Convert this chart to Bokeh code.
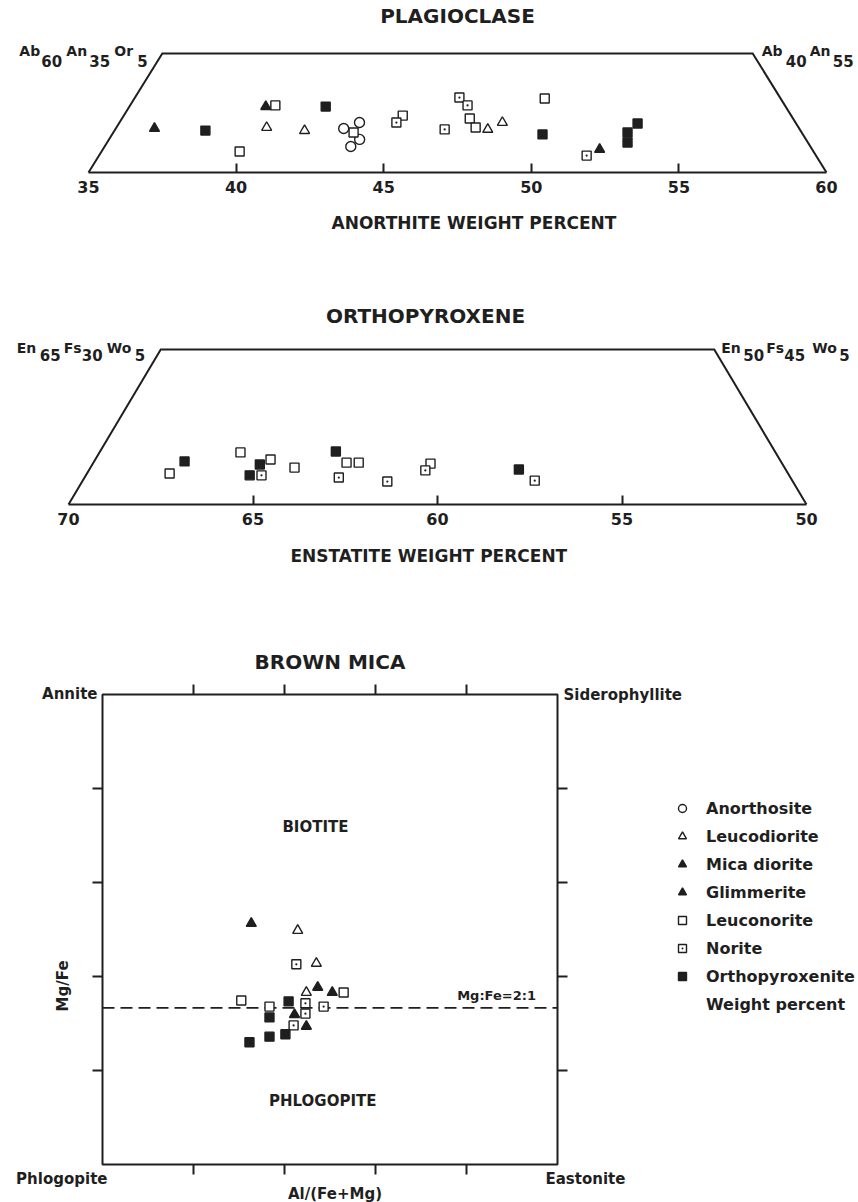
from bokeh.plotting import figure
from bokeh.models import (Range1d, LinearAxis, FixedTicker, Label, Legend, LegendItem,
                          ColumnDataSource, CDSView, GroupFilter, Title)
from bokeh.layouts import column
from bokeh.embed import file_html
from bokeh.resources import INLINE
import math

INK = "#1f1f1f"
FONT = "DejaVu Sans"

# ---------------- rock types / symbols ----------------
ROCKS = ["Anorthosite", "Leucodiorite", "Mica diorite", "Glimmerite",
         "Leuconorite", "Norite", "Orthopyroxenite"]
ROCK_MARKER = {"Anorthosite": "circle", "Leucodiorite": "triangle", "Mica diorite": "triangle",
               "Glimmerite": "triangle", "Leuconorite": "square", "Norite": "square_dot",
               "Orthopyroxenite": "square"}
ROCK_FILLED = {"Anorthosite": False, "Leucodiorite": False, "Mica diorite": True,
               "Glimmerite": True, "Leuconorite": False, "Norite": False,
               "Orthopyroxenite": True}
ROCK_SIZE = {"Anorthosite": 10, "Leucodiorite": 10, "Mica diorite": 10, "Glimmerite": 10,
             "Leuconorite": 9, "Norite": 9, "Orthopyroxenite": 9}

# ---------------- Plagioclase (An wt%, Or wt%) ----------------
PLAG_AN = [36.31, 38.08, 39.68, 39.62, 39.92, 40.09, 41.44, 41.65, 42.72, 43.13, 43.14,
           43.49, 43.34, 44.38, 44.45, 46.16, 45.99, 46.43, 46.78, 47.17, 47.62, 47.97,
           48.90, 49.58, 51.52, 51.83, 52.42, 52.63, 52.57]
PLAG_OR = [1.85, 1.76, 0.88, 2.77, 2.82, 1.89, 1.76, 2.77, 1.85, 2.10, 1.68, 1.39, 1.09,
           2.10, 2.39, 1.81, 3.15, 2.82, 2.27, 1.89, 1.81, 2.10, 3.11, 1.60, 0.71, 0.97,
           1.68, 1.26, 2.06]
PLAG_ROCK = ["Mica diorite", "Orthopyroxenite", "Leuconorite", "Mica diorite", "Leuconorite",
             "Leucodiorite", "Leucodiorite", "Orthopyroxenite", "Anorthosite", "Anorthosite",
             "Leuconorite", "Anorthosite", "Anorthosite", "Norite", "Leuconorite", "Norite",
             "Norite", "Norite", "Leuconorite", "Leuconorite", "Leucodiorite", "Leucodiorite",
             "Leuconorite", "Orthopyroxenite", "Norite", "Mica diorite", "Orthopyroxenite",
             "Orthopyroxenite", "Orthopyroxenite"]
PLAG_CORNER_AN = [35, 35, 55, 60]
PLAG_CORNER_OR = [0, 5, 5, 0]
PLAG_TICKS = [35, 40, 45, 50, 55, 60]

# ---------------- Orthopyroxene (En wt%, Wo wt%) ----------------
OPX_EN = [66.76, 66.16, 64.50, 64.17, 64.62, 64.30, 63.80, 63.28, 61.90, 61.79, 61.46,
          62.24, 60.99, 59.78, 59.53, 57.23, 56.98]
OPX_WO = [1.00, 1.39, 1.68, 1.29, 0.94, 0.94, 1.45, 1.19, 1.71, 1.35, 1.35, 0.87, 0.74,
          1.10, 1.32, 1.13, 0.77]
OPX_ROCK = ["Leuconorite", "Orthopyroxenite", "Leuconorite", "Orthopyroxenite",
            "Orthopyroxenite", "Norite", "Leuconorite", "Leuconorite", "Orthopyroxenite",
            "Leuconorite", "Leuconorite", "Norite", "Norite", "Norite", "Leuconorite",
            "Orthopyroxenite", "Norite"]
OPX_CORNER_EN = [70, 65, 50, 50]
OPX_CORNER_WO = [0, 5, 5, 0]
OPX_TICKS = [70, 65, 60, 55, 50]

# ---------------- Brown mica (Al/(Fe+Mg) relative, Fe/(Fe+Mg)) ----------------
MICA_AL = [0.327, 0.429, 0.426, 0.470, 0.473, 0.505, 0.530, 0.448, 0.305, 0.367, 0.409,
           0.446, 0.486, 0.367, 0.422, 0.446, 0.420, 0.448, 0.402, 0.367, 0.323]
MICA_FE = [0.513, 0.498, 0.426, 0.428, 0.377, 0.366, 0.366, 0.366, 0.349, 0.336, 0.347,
           0.343, 0.336, 0.313, 0.319, 0.321, 0.296, 0.294, 0.277, 0.272, 0.260]
MICA_ROCK = ["Glimmerite", "Leucodiorite", "Norite", "Leucodiorite", "Glimmerite",
             "Glimmerite", "Leuconorite", "Leucodiorite", "Leuconorite", "Leuconorite",
             "Orthopyroxenite", "Norite", "Norite", "Orthopyroxenite", "Mica diorite",
             "Norite", "Norite", "Mica diorite", "Orthopyroxenite", "Orthopyroxenite",
             "Orthopyroxenite"]
MICA_TICKS = [0.2, 0.4, 0.6, 0.8]
MICA_BOX = (0.0, 1.0)
MG_FE_RATIO = 2.0


def proj(main, third):
    """position along the base of the ternary slice"""
    return [m + t / 2.0 for m, t in zip(main, third)]


def base_fig(**kw):
    return figure(x_axis_type=None, y_axis_type=None, tools="", toolbar_location=None,
                  output_backend="svg", background_fill_color="white",
                  border_fill_color="white", min_border_left=0, min_border_right=0,
                  min_border_top=0, outline_line_color=None, **kw)


def rock_style(r):
    return dict(marker=ROCK_MARKER[r], size=ROCK_SIZE[r], line_color=INK, line_width=1.4,
                fill_color=INK if ROCK_FILLED[r] else "white")


def add_points(p, src):
    rends = {}
    for r in ROCKS:
        view = CDSView(filter=GroupFilter(column_name="rock", group=r))
        rends[r] = p.scatter("x", "y", source=src, view=view, **rock_style(r))
    return rends


def lab(p, x, y, text, size, units="data", align="center", baseline="middle",
        xo=0, yo=0, angle=0.0):
    p.add_layout(Label(x=x, y=y, x_units=units, y_units=units, x_offset=xo, y_offset=yo,
                       text=text, text_font=FONT, text_font_style="bold",
                       text_font_size=f"{size}px", text_color=INK, text_align=align,
                       text_baseline=baseline, angle=angle))


def formula(p, x, y, parts, letter_dy, digit_dy):
    # parts: (text, x_offset_px, is_subscript)
    for text, xo, sub in parts:
        lab(p, x, y, text, 15 if sub else 14, align="left", baseline="alphabetic",
            xo=xo, yo=digit_dy if sub else letter_dy)


def ternary_axis(ticks, bounds):
    return LinearAxis(ticker=FixedTicker(ticks=ticks, minor_ticks=ticks[1:-1]),
                      bounds=bounds, axis_line_color=INK, axis_line_width=2,
                      major_tick_line_color=None, major_tick_in=0, major_tick_out=0,
                      minor_tick_in=9, minor_tick_out=0, minor_tick_line_color=INK,
                      minor_tick_line_width=2, major_label_standoff=8,
                      major_label_text_font=FONT, major_label_text_font_style="bold",
                      major_label_text_font_size="16px", major_label_text_color=INK)


def axis_title(text, left_px, standoff):
    return Title(text=text, align="left", offset=left_px, standoff=standoff,
                 vertical_align="top", text_font=FONT, text_font_style="bold",
                 text_font_size="17px", text_color=INK)


# =============== PLAGIOCLASE ===============
p1 = base_fig(width=858, height=260, frame_width=858, frame_height=172,
              min_border_bottom=88,
              x_range=Range1d(32.019, 61.084), y_range=Range1d(0, 7.227))
p1.add_layout(ternary_axis(PLAG_TICKS, (35, 60)), "below")
p1.add_layout(axis_title("ANORTHITE WEIGHT PERCENT", 331, 34), "below")
p1.line(proj(PLAG_CORNER_AN, PLAG_CORNER_OR), PLAG_CORNER_OR, line_color=INK, line_width=2,
        line_join="miter")
src1 = ColumnDataSource(dict(x=proj(PLAG_AN, PLAG_OR), y=PLAG_OR, rock=PLAG_ROCK))
add_points(p1, src1)
lab(p1, 457, 157, "PLAGIOCLASE", 20, units="screen")
tl = proj(PLAG_CORNER_AN, PLAG_CORNER_OR)
formula(p1, tl[1], PLAG_CORNER_OR[1],
        [("Ab", -143, False), ("60", -121, True), ("An", -96, False), ("35", -73, True),
         ("Or", -48, False), ("5", -25, True)], 3, -7)
formula(p1, tl[2], PLAG_CORNER_OR[2],
        [("Ab", 9, False), ("40", 33, True), ("An", 57, False), ("55", 80, True)], 3, -7)

# =============== ORTHOPYROXENE ===============
p2 = base_fig(width=858, height=340, frame_width=858, frame_height=244,
              min_border_bottom=96,
              x_range=Range1d(71.843, 48.591), y_range=Range1d(0, 7.871))
p2.add_layout(ternary_axis(OPX_TICKS, (50, 70)), "below")
p2.add_layout(axis_title("ENSTATITE WEIGHT PERCENT", 290, 36), "below")
p2.line(proj(OPX_CORNER_EN, OPX_CORNER_WO), OPX_CORNER_WO, line_color=INK, line_width=2,
        line_join="miter")
src2 = ColumnDataSource(dict(x=proj(OPX_EN, OPX_WO), y=OPX_WO, rock=OPX_ROCK))
add_points(p2, src2)
lab(p2, 425, 189, "ORTHOPYROXENE", 20, units="screen")
tl2 = proj(OPX_CORNER_EN, OPX_CORNER_WO)
formula(p2, tl2[1], OPX_CORNER_WO[1],
        [("En", -144, False), ("65", -121, True), ("Fs", -97, False), ("30", -79, True),
         ("Wo", -54, False), ("5", -26, True)], 2, -5)
formula(p2, tl2[2], OPX_CORNER_WO[2],
        [("En", 7, False), ("50", 29, True), ("Fs", 52, False), ("45", 70, True),
         ("Wo", 98, False), ("5", 125, True)], 2, -5)

# =============== BROWN MICA ===============
p3 = base_fig(width=858, height=602, frame_width=858, frame_height=602,
              min_border_bottom=0,
              x_range=Range1d(-0.22418, 1.66154), y_range=Range1d(-0.08085, 1.2))
b0, b1 = MICA_BOX
TLX, TLY = 10 / 455, 10 / 470          # tick length (10 px) in data units
n = len(MICA_TICKS)
p3.segment(x0=MICA_TICKS, x1=MICA_TICKS, y0=[b1] * n, y1=[b1 + TLY] * n,
           line_color=INK, line_width=2)
p3.segment(x0=MICA_TICKS, x1=MICA_TICKS, y0=[b0] * n, y1=[b0 - TLY] * n,
           line_color=INK, line_width=2)
p3.segment(x0=[b0] * n, x1=[b0 - TLX] * n, y0=MICA_TICKS, y1=MICA_TICKS,
           line_color=INK, line_width=2)
p3.segment(x0=[b1] * n, x1=[b1 + TLX] * n, y0=MICA_TICKS, y1=MICA_TICKS,
           line_color=INK, line_width=2)
p3.quad(left=b0, right=b1, bottom=b0, top=b1, fill_color=None, line_color=INK,
        line_width=2)
ratio_y = 1.0 / (1.0 + MG_FE_RATIO)
p3.line(x=[b0, b1], y=[ratio_y, ratio_y], line_color=INK, line_width=1.6,
        line_dash="12 6")

src3 = ColumnDataSource(dict(x=MICA_AL, y=MICA_FE, rock=MICA_ROCK))
rends = add_points(p3, src3)
# rock types without mica analyses still need a legend symbol
for r in ROCKS:
    if r not in MICA_ROCK:
        rends[r] = p3.scatter(x=[float("nan")], y=[float("nan")], **rock_style(r))
blank = p3.scatter(x=[float("nan")], y=[float("nan")], size=0, fill_alpha=0, line_alpha=0)

items = [LegendItem(label=r, renderers=[rends[r]]) for r in ROCKS]
items.append(LegendItem(label="Weight percent", renderers=[blank]))
legend = Legend(items=items, location=(672, 188), orientation="vertical",
                glyph_width=20, glyph_height=20, label_height=20, spacing=8,
                padding=0, margin=0, label_standoff=14, border_line_color=None,
                background_fill_alpha=0, label_text_font=FONT,
                label_text_font_style="bold", label_text_font_size="16px",
                label_text_color=INK)
p3.add_layout(legend)

lab(p3, 0.5, b1, "BROWN MICA", 20, yo=33)
lab(p3, b0, b1, "Annite", 15, align="right", xo=-5, yo=1)
lab(p3, b1, b1, "Siderophyllite", 15, align="left", xo=6)
lab(p3, b0, b0, "Phlogopite", 15, align="right", xo=5, yo=-14)
lab(p3, b1, b0, "Eastonite", 15, align="left", xo=-12, yo=-14)
lab(p3, 0.5, b0, "Al/(Fe+Mg)", 15, xo=5, yo=-29)
lab(p3, b0, 0.38, "Mg/Fe", 15, xo=-40, angle=math.pi / 2)
lab(p3, 0.468, 0.719, "BIOTITE", 15)
lab(p3, 0.484, 0.136, "PHLOGOPITE", 15)
lab(p3, 0.866, ratio_y, "Mg:Fe=2:1", 13, yo=12)

layout = column(p1, p2, p3)
open("out.html", "w").write(file_html(layout, INLINE))
